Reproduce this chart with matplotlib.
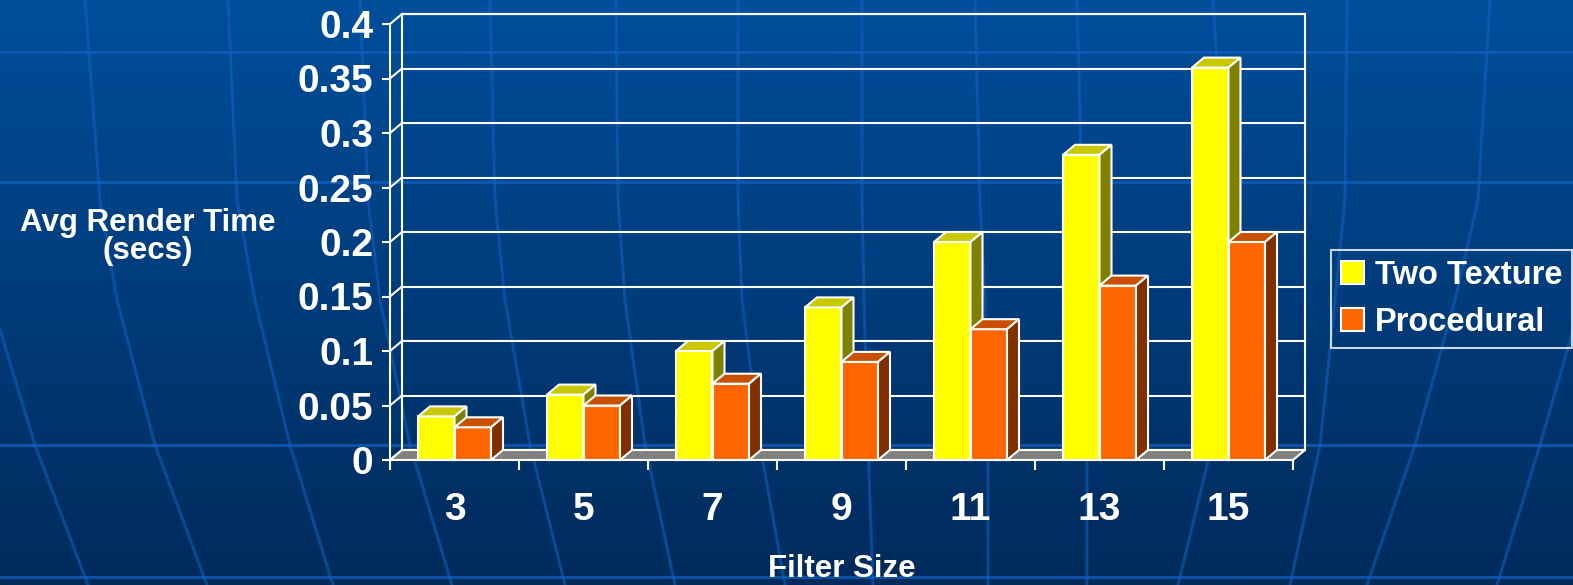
import numpy as np
import matplotlib
matplotlib.use('Agg')
import matplotlib.pyplot as plt
from matplotlib.patches import Polygon, Rectangle, Patch

plt.rcParams['font.family'] = ['Liberation Sans', 'DejaVu Sans']
plt.rcParams['font.weight'] = 'bold'

# data
filter_sizes = ['3', '5', '7', '9', '11', '13', '15']
two_texture = [0.04, 0.06, 0.10, 0.14, 0.20, 0.28, 0.36]
procedural = [0.03, 0.05, 0.07, 0.09, 0.12, 0.16, 0.20]
y_ticks = [0, 0.05, 0.1, 0.15, 0.2, 0.25, 0.3, 0.35, 0.4]
y_tick_labels = ['0', '0.05', '0.1', '0.15', '0.2', '0.25', '0.3', '0.35', '0.4']
series_names = ['Two Texture', 'Procedural']

W, H = 1573, 585
fig = plt.figure(figsize=(W / 100, H / 100), dpi=100)

# slide background: gradient plus globe-like grid lines
bg = fig.add_axes([0, 0, 1, 1])
top_c = np.array([0x00, 0x4E, 0x9B]) / 255
bot_c = np.array([0x00, 0x2A, 0x5B]) / 255
t = np.linspace(0, 1, 256)[:, None, None]
grad = top_c * (1 - t) + bot_c * t
grad = np.repeat(grad, 2, axis=1)
bg.imshow(grad, extent=[0, W, H, 0], aspect='auto', zorder=0)
bg.set_xlim(0, W)
bg.set_ylim(H, 0)
bg.axis('off')

line_col = '#1262C4'
for yy in [52, 182, 445, 577]:
    bg.plot([0, W], [yy, yy], color=line_col, lw=2.2, alpha=0.7, zorder=1)
longitudes = [
    ([0, 35, 88], [330, 445, 585]),
    ([85, 100, 117, 155, 207], [0, 200, 300, 445, 585]),
    ([228, 237, 255, 290, 333], [0, 200, 300, 445, 585]),
    ([360, 368, 380, 410, 452], [0, 200, 300, 445, 585]),
    ([490, 495, 505, 530, 565], [0, 200, 300, 445, 585]),
    ([616, 618, 625, 645, 675], [0, 200, 300, 445, 585]),
    ([738, 738, 742, 760, 785], [0, 200, 300, 445, 585]),
    ([862, 862, 864, 868, 873], [0, 200, 300, 445, 585]),
    ([975, 980, 985, 988, 988], [0, 200, 300, 445, 585]),
    ([1077, 1082, 1085, 1087, 1087], [0, 200, 300, 445, 585]),
    ([1213, 1225, 1228, 1212, 1178], [0, 200, 300, 445, 585]),
    ([1347, 1345, 1335, 1320, 1290], [0, 200, 300, 445, 585]),
    ([1490, 1478, 1455, 1415, 1367], [0, 200, 300, 445, 585]),
    ([1573, 1540, 1497], [330, 445, 585]),
]
for xs, ys in longitudes:
    bg.plot(xs, ys, color=line_col, lw=2.2, alpha=0.55, zorder=1)

# chart front plane
x0px, y0px, wpx, hpx = 390, 125, 903, 436
ax = fig.add_axes([x0px / W, y0px / H, wpx / W, hpx / H])
n = len(filter_sizes)
ymax = 0.4
ax.set_xlim(0, n)
ax.set_ylim(0, ymax)
ax.patch.set_visible(False)
for s in ['top', 'right', 'bottom']:
    ax.spines[s].set_visible(False)
ax.spines['left'].set_color('white')
ax.spines['left'].set_linewidth(1.5)

# depth offset in data units
ddx = 12 / wpx * n
ddy = 10 / hpx * ymax

edge = dict(edgecolor='white', linewidth=1.5, joinstyle='miter')

# back wall and gridlines
ax.add_patch(Rectangle((ddx, ddy), n, ymax, fill=False, zorder=1, clip_on=False, **edge))
for v in y_ticks:
    ax.plot([ddx, n + ddx], [v + ddy, v + ddy], color='white', lw=1.5, zorder=1, clip_on=False)
    ax.plot([0, ddx], [v, v + ddy], color='white', lw=1.5, zorder=1, clip_on=False)

# floor
ax.add_patch(Polygon([(0, 0), (n, 0), (n + ddx, ddy), (ddx, ddy)], closed=True,
                     facecolor='#808080', zorder=2, clip_on=False, **edge))

# bars
bw = 0.283
gap = 0.217
styles = [('#FFFF00', '#C8C800', '#808000'), ('#FF6600', '#C85000', '#803000')]
zo = 3
for i in range(n):
    for j, vals in enumerate([two_texture, procedural]):
        v = vals[i]
        fc, tc, sc = styles[j]
        xa = i + gap + j * bw
        xb = xa + bw
        ax.add_patch(Rectangle((xa, 0), bw, v, facecolor=fc, zorder=zo, clip_on=False, **edge))
        ax.add_patch(Polygon([(xa, v), (xb, v), (xb + ddx, v + ddy), (xa + ddx, v + ddy)],
                             closed=True, facecolor=tc, zorder=zo, clip_on=False, **edge))
        ax.add_patch(Polygon([(xb, 0), (xb + ddx, ddy), (xb + ddx, v + ddy), (xb, v)],
                             closed=True, facecolor=sc, zorder=zo, clip_on=False, **edge))
        zo += 1

# axes ticks
ax.set_yticks(y_ticks)
ax.set_yticklabels(y_tick_labels)
ax.tick_params(axis='y', colors='white', length=6, width=1.5, labelsize=28, pad=6)
ax.set_xticks(np.arange(n + 1))
ax.set_xticklabels([])
ax.set_xticks(np.arange(n) + 0.5, minor=True)
ax.set_xticklabels(filter_sizes, minor=True)
ax.tick_params(axis='x', which='major', colors='white', length=7, width=1.5)
ax.tick_params(axis='x', which='minor', colors='white', length=0, labelsize=28, pad=23)
for lab in ax.get_yticklabels() + ax.get_xticklabels(minor=True):
    lab.set_fontweight('bold')

fig.text(148 / W, 1 - 237 / H, 'Avg Render Time\n(secs)', color='white', fontsize=22.5,
         fontweight='bold', ha='center', va='center', linespacing=0.95)
fig.text(842 / W, 1 - 569 / H, 'Filter Size', color='white', fontsize=22.5,
         fontweight='bold', ha='center', va='center')

handles = [Patch(facecolor=styles[k][0], edgecolor='white', linewidth=1.5) for k in range(2)]
leg = fig.legend(handles, series_names, loc='upper left', bbox_to_anchor=(1331 / W, 1 - 250 / H),
                 fontsize=23.5, frameon=True, fancybox=False, handlelength=0.7, handleheight=0.7,
                 handletextpad=0.35, labelspacing=0.5, borderpad=0.3, borderaxespad=0)
leg.get_frame().set_facecolor('none')
leg.get_frame().set_edgecolor('white')
leg.get_frame().set_linewidth(1.5)
for txt in leg.get_texts():
    txt.set_color('white')
    txt.set_fontweight('bold')

fig.savefig('out.png', dpi=100)
